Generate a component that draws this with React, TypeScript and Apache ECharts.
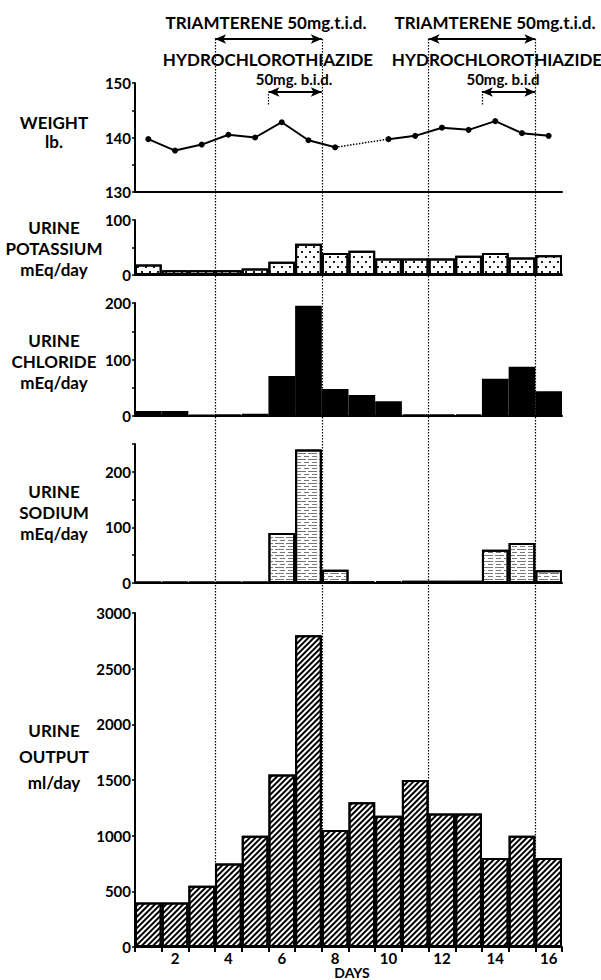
import React, { useEffect, useRef } from "react";
import * as echarts from "echarts";

// ---------- data ----------
const days = ["1", "2", "3", "4", "5", "6", "7", "8", "9", "10", "11", "12", "13", "14", "15", "16"];
const weightLb: (number | null)[] = [139.7, 137.6, 138.7, 140.5, 140.0, 142.8, 139.5, 138.2, null, 139.7, 140.3, 141.8, 141.4, 143.0, 140.8, 140.3];
const potassium = [19, 8.5, 8.5, 8.5, 12, 24, 57, 40, 44, 30, 30, 30, 35, 40, 32, 36];
const chloride = [9, 9, 2, 3, 4, 71, 195, 48, 37, 26, 3, 3, 3, 66, 87, 44];
const sodium = [2, 2, 2, 2, 2, 90, 240, 24, 3, 3, 4, 4, 4, 60, 72, 23];
const urineOutput = [400, 400, 550, 750, 1000, 1550, 2800, 1050, 1300, 1180, 1500, 1200, 1200, 800, 1000, 800];
// drug courses (day boundaries)
const triamtereneCourses = [[3.5, 7.5], [11.5, 15.5]];
const hctCourses = [[5.5, 7.5], [13.5, 15.5]];

const FONT = 'Lato, "Open Sans", "DejaVu Sans", sans-serif';

export default function App() {
  const ref = useRef<HTMLDivElement>(null);
  useEffect(() => {
    const chart = echarts.init(ref.current!, null, { renderer: "svg" });
    const L = 135, R = 39;
    const gridDefs = [
      { top: 83, height: 109 },
      { top: 220, height: 55 },
      { top: 303, height: 113 },
      { top: 444, height: 139 },
      { top: 613, height: 334 },
    ];
    const grid: any[] = gridDefs.map((g) => ({ left: L, right: R, top: g.top, height: g.height }));
    grid.push({ left: L, right: R, top: 0, height: 980 });

    const axisLineStyle = { color: "#000", width: 2 };
    const xAxis: any[] = gridDefs.map((_, i) => ({
      type: "category",
      gridIndex: i,
      data: days,
      boundaryGap: true,
      axisLine: { show: true, lineStyle: axisLineStyle },
      axisTick: i === 4 ? { show: true, interval: 0, alignWithLabel: false, length: 5, lineStyle: { color: "#000", width: 2 } } : { show: false },
      axisLabel: i === 4
        ? { show: true, interval: (idx: number) => idx % 2 === 1, color: "#000", fontFamily: FONT, fontWeight: "bold", fontSize: 15, lineHeight: 15, margin: 3 }
        : { show: false },
      splitLine: { show: false },
    }));
    xAxis.push({ type: "value", gridIndex: 5, min: 0.5, max: 16.5, show: false });

    const yBase = (i: number, min: number, max: number, interval: number, minor: boolean, extra: any = {}) => ({
      type: "value",
      gridIndex: i,
      min,
      max,
      interval,
      axisLine: { show: true, lineStyle: axisLineStyle },
      axisTick: { show: true, length: 3, lineStyle: { color: "#000", width: 1.5 } },
      minorTick: { show: minor, splitNumber: 2, length: 3, lineStyle: { color: "#000", width: 1.5 } },
      axisLabel: { color: "#000", fontFamily: FONT, fontWeight: "bold", fontSize: 15, margin: 4, formatter: (v: number) => String(v), ...extra },
      splitLine: { show: false },
      minorSplitLine: { show: false },
    });
    const yAxis: any[] = [
      yBase(0, 130, 150, 10, true),
      yBase(1, 0, 100, 100, true),
      yBase(2, 0, 200, 100, true),
      yBase(3, 0, 250, 100, true, { showMaxLabel: false }),
      yBase(4, 0, 3000, 500, false),
      { type: "value", gridIndex: 5, min: 0, max: 980, inverse: true, show: false },
    ];

    const weightBridge = weightLb.map((v, i) =>
      v !== null && (weightLb[i + 1] === null || weightLb[i - 1] === null) ? v : null
    );

    const barBase = (i: number, data: number[], extra: any) => ({
      type: "bar",
      xAxisIndex: i,
      yAxisIndex: i,
      data,
      barCategoryGap: "0%",
      z: 3,
      itemStyle: { color: "#fff", borderColor: "#000", borderWidth: 2, ...extra },
    });

    const ANNOT_TOP = 39;
    const PLOT_BOTTOM = 947;
    const HCT_Y = 92;

    const dottedLines: any[] = [];
    triamtereneCourses.forEach(([a, b]) => {
      dottedLines.push([{ coord: [a, ANNOT_TOP] }, { coord: [a, PLOT_BOTTOM] }]);
      dottedLines.push([{ coord: [b, ANNOT_TOP] }, { coord: [b, PLOT_BOTTOM] }]);
    });
    hctCourses.forEach(([a]) => {
      dottedLines.push([{ coord: [a, HCT_Y + 2] }, { coord: [a, HCT_Y + 14] }]);
    });
    const arrows: any[] = [];
    triamtereneCourses.forEach(([a, b]) => arrows.push([{ coord: [a, ANNOT_TOP] }, { coord: [b, ANNOT_TOP] }]));
    hctCourses.forEach(([a, b]) => arrows.push([{ coord: [a, HCT_Y] }, { coord: [b, HCT_Y] }]));

    const series: any[] = [
      {
        type: "scatter", xAxisIndex: 5, yAxisIndex: 5, data: [], z: 1, silent: true,
        markLine: {
          silent: true, z: 1, symbol: ["none", "none"], label: { show: false },
          lineStyle: { color: "#000", type: [1.5, 1.5], width: 1.2 },
          emphasis: { disabled: true },
          data: dottedLines,
        },
      },
      {
        type: "scatter", xAxisIndex: 5, yAxisIndex: 5, data: [], z: 4, silent: true,
        markLine: {
          silent: true, z: 4, symbol: ["arrow", "arrow"], symbolSize: [7, 11], label: { show: false },
          lineStyle: { color: "#000", type: "solid", width: 2.2 },
          emphasis: { disabled: true },
          data: arrows,
        },
      },
      {
        type: "line", xAxisIndex: 0, yAxisIndex: 0, data: weightLb, connectNulls: false,
        symbol: "circle", symbolSize: 6, z: 5,
        itemStyle: { color: "#000" }, lineStyle: { color: "#000", width: 2 },
      },
      {
        type: "line", xAxisIndex: 0, yAxisIndex: 0, data: weightBridge, connectNulls: true,
        symbol: "none", z: 4,
        lineStyle: { color: "#000", width: 1.5, type: [1.5, 1.5] },
      },
      barBase(1, potassium, {
        decal: {
          symbol: "circle", symbolSize: 0.55, symbolKeepAspect: true, color: "#000", backgroundColor: "#fff",
          dashArrayX: [[4, 4], [0, 4, 4, 0]], dashArrayY: [4, 1],
        },
      }),
      barBase(2, chloride, { color: "#000" }),
      barBase(3, sodium, {
        decal: {
          symbol: "rect", symbolSize: 1, symbolKeepAspect: false, color: "#777", backgroundColor: "#fff",
          dashArrayX: [[9, 2], [5, 3]], dashArrayY: [1, 2],
        },
      }),
      barBase(4, urineOutput, {
        decal: {
          symbol: "rect", symbolSize: 1, symbolKeepAspect: false, color: "#000", backgroundColor: "#fff",
          dashArrayX: [1, 0], dashArrayY: [1.4, 1.6], rotation: -Math.PI / 4,
        },
      }),
    ];

    const txt = (text: string, x: number, y: number, size = 17, lineHeight = 17) => ({
      type: "text",
      x, y, silent: true, z: 10,
      style: {
        text, x: 0, y: 0, align: "center", verticalAlign: "middle",
        fontFamily: FONT, fontWeight: "bold", fontSize: size, lineHeight, fill: "#000",
      },
    });

    const graphic: any[] = [
      txt("TRIAMTERENE 50mg.t.i.d.", 266, 22),
      txt("TRIAMTERENE 50mg.t.i.d.", 495, 22),
      txt("HYDROCHLOROTHIAZIDE", 268, 59, 17, 15),
      txt("HYDROCHLOROTHIAZIDE", 497, 59, 17, 15),
      txt("50mg. b.i.d.", 294, 79, 15, 14),
      txt("50mg. b.i.d", 503, 79, 15, 14),
      txt("WEIGHT\nlb.", 54, 132, 17, 19),
      txt("URINE\nPOTASSIUM\nmEq/day", 54, 248, 17, 21),
      txt("URINE\nCHLORIDE\nmEq/day", 54, 361, 17, 21),
      txt("URINE\nSODIUM\nmEq/day", 54, 512, 17, 21),
      txt("URINE\nOUTPUT\nml/day", 54, 756, 17, 26),
      txt("DAYS", 352, 972, 14, 14),
    ];

    chart.setOption({
      animation: false,
      backgroundColor: "#fff",
      grid,
      xAxis,
      yAxis,
      series,
      graphic,
    });
    return () => chart.dispose();
  }, []);
  return <div ref={ref} style={{ position: "absolute", left: 0, top: 0, width: 601, height: 980 }} />;
}
